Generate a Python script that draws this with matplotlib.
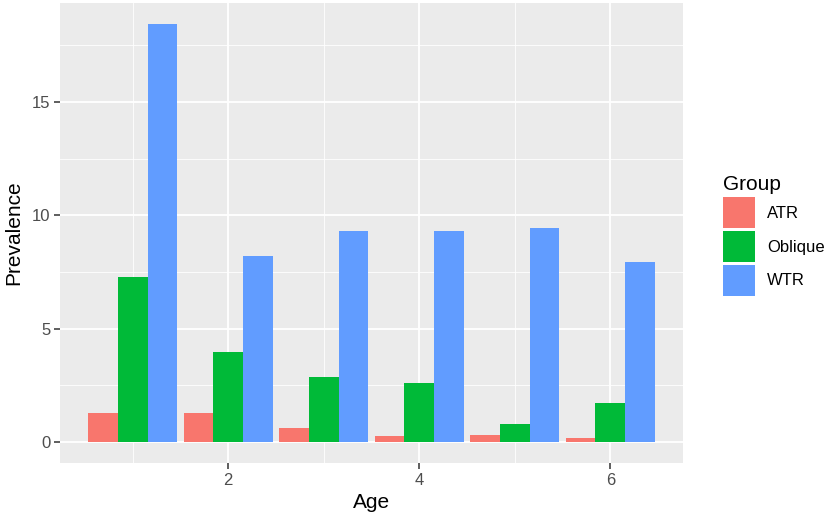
import matplotlib
matplotlib.use("Agg")
import matplotlib.pyplot as plt
from matplotlib.patches import Patch
from matplotlib.ticker import MultipleLocator
import numpy as np

plt.rcParams["font.family"] = ["Liberation Sans", "DejaVu Sans"]

ages = [1, 2, 3, 4, 5, 6]
groups = ["ATR", "Oblique", "WTR"]
atr = [1.3, 1.3, 0.6, 0.27, 0.3, 0.2]
oblique = [7.3, 3.97, 2.87, 2.6, 0.8, 1.72]
wtr = [18.45, 8.2, 9.3, 9.3, 9.45, 7.95]
colors = ["#F8766D", "#00BA38", "#619CFF"]

fig = plt.figure(figsize=(8.27, 5.26), dpi=100)
ax = fig.add_axes([60 / 827, 63 / 526, 623 / 827, 460 / 526])
ax.set_facecolor("#EBEBEB")

total = 0.93
bw = total / 3
x = np.array(ages, dtype=float)
for i, (vals, c) in enumerate(zip([atr, oblique, wtr], colors)):
    ax.bar(x - total / 2 + bw * (i + 0.5), vals, width=bw, color=c, zorder=3)

ymax = max(wtr)
ax.set_ylim(-0.05 * ymax, 1.05 * ymax)
xlo, xhi = 1 - total / 2, 6 + total / 2
pad = 0.05 * (xhi - xlo)
ax.set_xlim(xlo - pad, xhi + pad)

ax.xaxis.set_major_locator(MultipleLocator(2))
ax.xaxis.set_minor_locator(MultipleLocator(1))
ax.yaxis.set_major_locator(MultipleLocator(5))
ax.yaxis.set_minor_locator(MultipleLocator(2.5))
ax.grid(which="major", color="white", linewidth=1.3, zorder=0)
ax.grid(which="minor", color="white", linewidth=0.6, zorder=0)
ax.set_axisbelow(True)
for s in ax.spines.values():
    s.set_visible(False)
ax.tick_params(which="major", length=4, width=1.1, color="#333333",
               labelsize=12, labelcolor="#4D4D4D", pad=3)
ax.tick_params(which="minor", length=0)

ax.set_xlabel("Age", fontsize=15, labelpad=4)
ax.set_ylabel("Prevalence", fontsize=15, labelpad=6)

handles = [Patch(facecolor=c, label=g) for g, c in zip(groups, colors)]
leg = fig.legend(handles=handles, title="Group", loc="upper left",
                 bbox_to_anchor=(708 / 827, 1 - 160 / 526), frameon=False,
                 fontsize=12, title_fontsize=15, handlelength=1.9,
                 handleheight=2.48, labelspacing=0.18, handletextpad=0.75)
leg._legend_box.align = "left"

fig.savefig("out.png", dpi=100)
